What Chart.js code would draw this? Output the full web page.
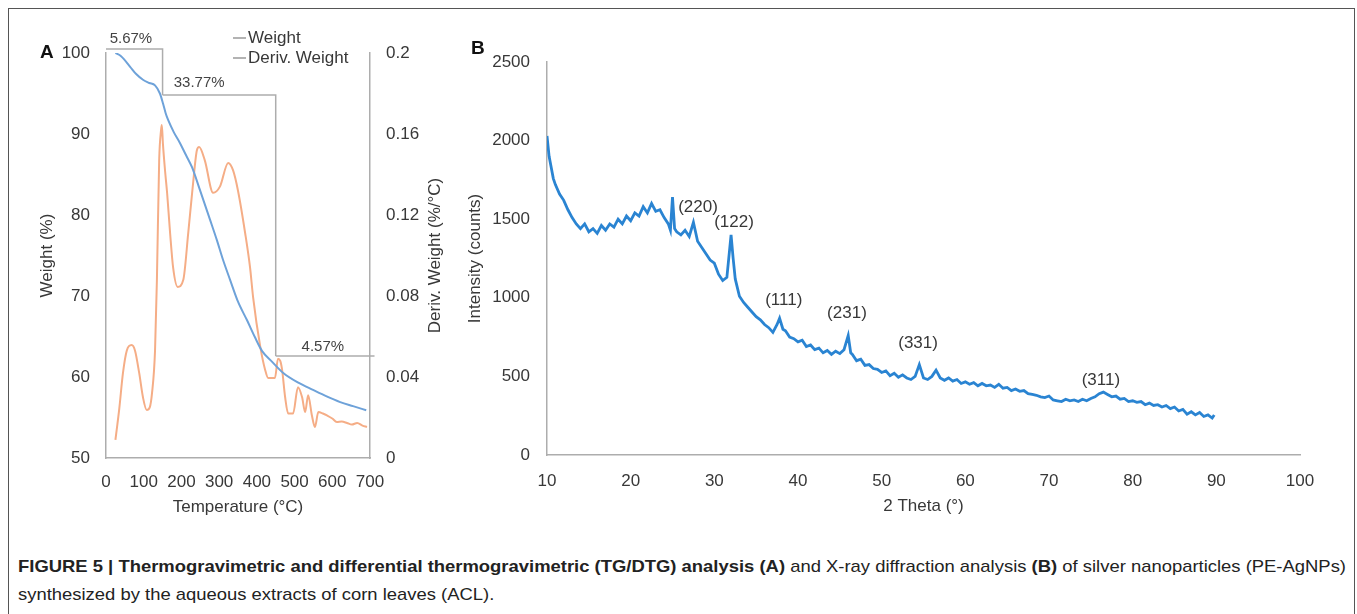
<!DOCTYPE html>
<html>
<head>
<meta charset="utf-8">
<script src="https://cdn.jsdelivr.net/npm/chart.js@4.4.1/dist/chart.umd.min.js"></script>
<style>
  body { margin:0; background:#fff; width:1357px; height:614px; overflow:hidden; position:relative;
         font-family:'Liberation Sans', Arial, sans-serif; }
  #frame { position:absolute; left:8px; top:8px; width:1347px; height:640px; border:1.5px solid #555; box-sizing:border-box; }
  canvas { position:absolute; }
  #cA { left:0; top:0; }
  #cB { left:460px; top:0; }
  .plab { position:absolute; font-weight:bold; font-size:19px; color:#111; line-height:20px; }
  .cap { position:absolute; left:18px; white-space:nowrap; line-height:20px; font-size:17px; color:#222;
         font-family:'Liberation Sans Narrow', 'Liberation Sans', Arial, sans-serif; transform-origin:0 50%; }
</style>
</head>
<body>
<div id="frame"></div>
<canvas id="cA" width="470" height="530"></canvas>
<canvas id="cB" width="880" height="530"></canvas>
<div class="plab" style="left:40px;top:42px">A</div>
<div class="plab" style="left:471px;top:38px">B</div>
<div class="cap" id="cap1" style="top:557px"><b>FIGURE 5 | Thermogravimetric and differential thermogravimetric (TG/DTG) analysis (A)</b> and X-ray diffraction analysis <b>(B)</b> of silver nanoparticles (PE-AgNPs)</div>
<div class="cap" id="cap2" style="top:585px">synthesized by the aqueous extracts of corn leaves (ACL).</div>

<script>
// ---- panel A: TG / DTG ----
const tgTemp   = [25, 40, 64, 80, 98, 115, 130, 143, 151, 158, 165, 180, 196, 212, 228, 249, 276, 294, 310, 329, 350, 374, 395, 414, 440, 470, 510, 549, 585, 621, 655, 690];
const tgWeight = [100, 99.6, 98.3, 97.4, 96.7, 96.3, 96.0, 95.0, 93.8, 92.6, 91.7, 90.2, 88.9, 87.4, 85.9, 83.1, 79.4, 76.9, 74.5, 72.0, 69.3, 67.0, 64.9, 63.2, 61.9, 60.5, 59.3, 58.4, 57.6, 56.9, 56.4, 55.9];

const dtgTemp  = [25, 35, 45, 55, 68, 77, 88, 98, 108, 116, 122, 130, 135, 141, 146, 148, 151, 157, 162, 170, 178, 190, 205, 218, 230, 241, 247, 262, 284, 302, 324, 337, 350, 369, 382, 390, 409, 422, 430, 448, 456, 462, 467, 475, 483, 496, 509, 520, 528, 536, 546, 554, 563, 575, 586, 600, 612, 625, 639, 652, 666, 680, 692];
const dtgDeriv = [0.009, 0.024, 0.042, 0.053, 0.0558, 0.053, 0.042, 0.030, 0.0237, 0.025, 0.032, 0.053, 0.088, 0.147, 0.162, 0.1644, 0.155, 0.141, 0.131, 0.111, 0.094, 0.0845, 0.088, 0.111, 0.134, 0.152, 0.1536, 0.147, 0.131, 0.134, 0.1457, 0.142, 0.132, 0.111, 0.094, 0.0795, 0.055, 0.0435, 0.0395, 0.0395, 0.049, 0.048, 0.0435, 0.030, 0.022, 0.022, 0.035, 0.030, 0.0227, 0.031, 0.021, 0.0153, 0.0227, 0.022, 0.021, 0.0195, 0.0178, 0.018, 0.0173, 0.0165, 0.0173, 0.016, 0.0153];

// mass-loss steps: label, start T, end T, level (weight %), drop-to level
const stepLabels = ['5.67%', '33.77%', '4.57%'];
const stepFrom   = [0, 150, 450];
const stepTo     = [150, 450, 712];
const stepLevel  = [100.5, 94.8, 62.6];
const stepDown   = [94.8, 62.6, null];
const stepLabT   = [66, 247, 575];
const stepLabW   = [101.7, 96.3, 63.7];

// ---- panel B: XRD ----
const xrdTheta = [10, 10.25, 10.5, 10.75, 11, 11.5, 12, 12.5, 13, 13.5, 14, 14.5, 15, 15.5, 16, 16.5, 17, 17.5, 18, 18.5, 19, 19.5, 20, 20.5, 21, 21.5, 22, 22.5, 23, 23.5, 24, 24.5, 24.75, 25, 25.25, 25.5, 26, 26.5, 27, 27.5, 27.75, 28, 28.5, 29, 29.5, 30, 30.5, 31, 31.5, 32, 32.25, 32.5, 33, 33.5, 34, 34.5, 35, 35.5, 36, 36.5, 37, 37.5, 37.8, 38.2, 38.5, 39, 39.5, 40, 40.5, 41, 41.5, 42, 42.5, 43, 43.5, 44, 44.5, 45, 45.5, 46, 46.3, 46.5, 47, 47.5, 48, 48.5, 49, 49.5, 50, 50.5, 51, 51.5, 52, 52.5, 53, 53.5, 54, 54.5, 55, 55.5, 56, 56.5, 57, 57.5, 58, 58.5, 59, 59.5, 60, 60.5, 61, 61.5, 62, 62.5, 63, 63.5, 64, 64.5, 65, 65.5, 66, 66.5, 67, 67.5, 68, 68.5, 69, 69.5, 70, 70.5, 71, 71.5, 72, 72.5, 73, 73.5, 74, 74.5, 75, 75.5, 76, 76.5, 77, 77.5, 78, 78.5, 79, 79.5, 80, 80.5, 81, 81.5, 82, 82.5, 83, 83.5, 84, 84.5, 85, 85.5, 86, 86.5, 87, 87.5, 88, 88.5, 89, 89.5, 89.75];
const xrdCounts = [2030, 1900, 1830, 1760, 1720, 1660, 1620, 1560, 1510, 1470, 1440, 1470, 1420, 1440, 1410, 1460, 1430, 1470, 1450, 1500, 1470, 1520, 1490, 1540, 1520, 1580, 1540, 1600, 1550, 1560, 1510, 1470, 1430, 1640, 1440, 1420, 1400, 1430, 1390, 1480, 1420, 1360, 1320, 1280, 1240, 1220, 1150, 1110, 1130, 1400, 1250, 1120, 1010, 970, 940, 910, 880, 860, 830, 810, 780, 830, 870, 800, 790, 750, 740, 720, 730, 690, 700, 670, 680, 650, 665, 640, 660, 645, 670, 760, 650, 640, 600, 610, 570, 575, 550, 545, 525, 535, 505, 520, 495, 510, 490, 480, 500, 575, 490, 480, 500, 540, 490, 475, 490, 470, 480, 455, 465, 450, 460, 440, 455, 440, 445, 430, 450, 425, 430, 410, 420, 405, 410, 390, 385, 380, 370, 365, 375, 350, 345, 340, 355, 345, 350, 340, 355, 345, 360, 370, 390, 400, 385, 370, 375, 355, 360, 340, 345, 335, 340, 320, 330, 315, 320, 305, 315, 295, 305, 280, 290, 260, 275, 255, 270, 245, 255, 235, 255];

const peakLabels = ['(220)', '(122)', '(111)', '(231)', '(331)', '(311)'];
const peakTheta  = [28.05, 32.35, 38.3, 45.85, 54.35, 76.2];
const peakCounts = [1577, 1482, 986, 903, 712, 477];

const GREY = '#adadad';
const TXT = '#383838';
Chart.defaults.font.family = "'Liberation Sans', Arial, sans-serif";
Chart.defaults.font.size = 17;
Chart.defaults.color = TXT;

const fixW = w => s => { s.width = w; };
const fixH = h => s => { s.height = h; };
const pts = (xs, ys) => xs.map((x, i) => ({ x: x, y: ys[i] }));

// brackets, step labels, legend and the right-hand axis title of panel A
const tgaExtras = {
  id: 'tgaExtras',
  afterDatasetsDraw(chart) {
    const { ctx, scales: { x, y }, chartArea } = chart;
    ctx.save();
    ctx.strokeStyle = GREY;
    ctx.lineWidth = 1.5;
    stepLabels.forEach((lab, i) => {
      const yl = y.getPixelForValue(stepLevel[i]);
      const x0 = x.getPixelForValue(stepFrom[i]);
      const x1 = x.getPixelForValue(stepTo[i]);
      ctx.beginPath();
      ctx.moveTo(x0, yl);
      ctx.lineTo(x1, yl);
      if (stepDown[i] != null) ctx.lineTo(x1, y.getPixelForValue(stepDown[i]));
      ctx.stroke();
    });
    ctx.fillStyle = '#444';
    ctx.font = "15px 'Liberation Sans', Arial, sans-serif";
    ctx.textAlign = 'center';
    ctx.textBaseline = 'middle';
    stepLabels.forEach((lab, i) => {
      ctx.fillText(lab, x.getPixelForValue(stepLabT[i]), y.getPixelForValue(stepLabW[i]));
    });

    // legend
    ctx.font = "17px 'Liberation Sans', Arial, sans-serif";
    ctx.textAlign = 'left';
    ctx.fillStyle = TXT;
    [['Weight', 38], ['Deriv. Weight', 58]].forEach(([t, ly]) => {
      ctx.strokeStyle = '#9a9a9a';
      ctx.beginPath();
      ctx.moveTo(233, ly); ctx.lineTo(246, ly);
      ctx.stroke();
      ctx.fillText(t, 248, ly);
    });

    // right axis title, reading bottom-to-top
    ctx.translate(435, (chartArea.top + chartArea.bottom) / 2);
    ctx.rotate(-Math.PI / 2);
    ctx.textAlign = 'center';
    ctx.fillText('Deriv. Weight (%/°C)', 0, 0);
    ctx.restore();
  }
};

const xrdLabels = {
  id: 'xrdLabels',
  afterDatasetsDraw(chart) {
    const { ctx, scales: { x, y } } = chart;
    ctx.save();
    ctx.fillStyle = TXT;
    ctx.font = "17px 'Liberation Sans', Arial, sans-serif";
    ctx.textAlign = 'center';
    ctx.textBaseline = 'middle';
    peakLabels.forEach((lab, i) => {
      ctx.fillText(lab, x.getPixelForValue(peakTheta[i]), y.getPixelForValue(peakCounts[i]));
    });
    ctx.restore();
  }
};

const axisBase = {
  grid: { display: false, drawTicks: false },
  border: { color: GREY, width: 1.5 }
};

new Chart(document.getElementById('cA'), {
  type: 'line',
  data: {
    datasets: [
      { label: 'Weight', data: pts(tgTemp, tgWeight), yAxisID: 'y', borderColor: '#6ea2d9', borderWidth: 2,
        pointRadius: 0, cubicInterpolationMode: 'monotone' },
      { label: 'Deriv. Weight', data: pts(dtgTemp, dtgDeriv), yAxisID: 'y1', borderColor: '#f5ad86', borderWidth: 2,
        pointRadius: 0, cubicInterpolationMode: 'monotone' }
    ]
  },
  options: {
    responsive: false, animation: false, events: [],
    layout: { padding: { top: 53, left: 0, right: 0, bottom: 0 } },
    plugins: { legend: { display: false }, tooltip: { enabled: false } },
    scales: {
      x: { ...axisBase, type: 'linear', min: 0, max: 700, ticks: { stepSize: 100, padding: 14 },
           title: { display: true, text: 'Temperature (°C)', padding: { top: 0, bottom: 12 } }, afterFit: fixH(72) },
      y: { ...axisBase, position: 'left', min: 50, max: 100, ticks: { stepSize: 10, padding: 16 },
           title: { display: true, text: 'Weight (%)', padding: { top: 37, bottom: 0 } }, afterFit: fixW(106) },
      y1: { ...axisBase, position: 'right', min: 0, max: 0.2,
            ticks: { stepSize: 0.04, padding: 16, callback: v => String(+v.toFixed(2)) }, afterFit: fixW(100) }
    }
  },
  plugins: [tgaExtras]
});

new Chart(document.getElementById('cB'), {
  type: 'line',
  data: {
    datasets: [
      { label: 'XRD', data: pts(xrdTheta, xrdCounts), borderColor: '#2a84d2', borderWidth: 2.8,
        pointRadius: 0, tension: 0 }
    ]
  },
  options: {
    responsive: false, animation: false, events: [],
    layout: { padding: { top: 62, left: 0, right: 40, bottom: 0 } },
    plugins: { legend: { display: false }, tooltip: { enabled: false } },
    scales: {
      x: { ...axisBase, type: 'linear', min: 10, max: 100, ticks: { stepSize: 10, padding: 16 },
           title: { display: true, text: '2 Theta (°)', padding: { top: 0, bottom: 13 } }, afterFit: fixH(75) },
      y: { ...axisBase, min: 0, max: 2500, ticks: { stepSize: 500, padding: 17, callback: v => String(v) },
           title: { display: true, text: 'Intensity (counts)', padding: { top: 5, bottom: 0 } }, afterFit: fixW(87) }
    }
  },
  plugins: [xrdLabels]
});

// squeeze the caption to the width it has in the figure
const cap1 = document.getElementById('cap1'), cap2 = document.getElementById('cap2');
const sx = 1328 / cap1.getBoundingClientRect().width;
cap1.style.transform = cap2.style.transform = 'scaleX(' + sx + ')';
</script>
</body>
</html>
